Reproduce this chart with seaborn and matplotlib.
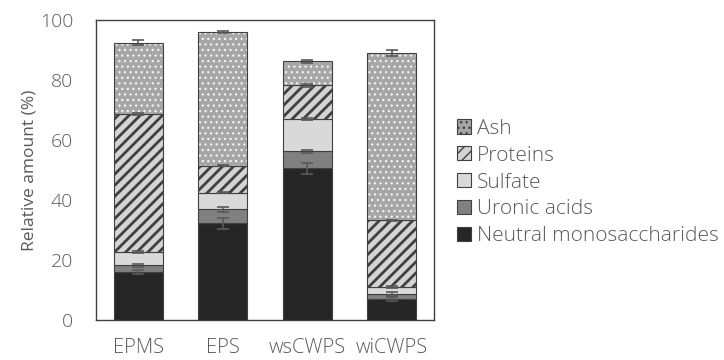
import numpy as np
import pandas as pd
import matplotlib
matplotlib.use("Agg")
import matplotlib.pyplot as plt
import seaborn as sns
from matplotlib.patches import Patch

categories = ["EPMS", "EPS", "wsCWPS", "wiCWPS"]
series_names = ["Neutral monosaccharides", "Uronic acids", "Sulfate", "Proteins", "Ash"]
neutral = [16.0, 32.2, 50.6, 7.0]
uronic = [2.3, 4.7, 5.7, 1.6]
sulfate = [4.5, 5.5, 10.6, 2.3]
proteins = [45.8, 9.0, 11.3, 22.4]
ash = [23.8, 44.5, 8.1, 55.8]
neutral_err = [0.7, 1.7, 1.8, 0.8]
uronic_err = [0.5, 0.8, 0.5, 0.6]
sulfate_err = [0.3, 0.2, 0.3, 0.3]
proteins_err = [0.3, 0.2, 0.5, 0.2]
ash_err = [0.8, 0.3, 0.5, 1.0]
y_ticks = [0, 20, 40, 60, 80, 100]

values = [neutral, uronic, sulfate, proteins, ash]
errors = [neutral_err, uronic_err, sulfate_err, proteins_err, ash_err]

styles = {
    "Neutral monosaccharides": dict(face="#262626", hatch=None, hcol=None, hlw=1.0),
    "Uronic acids": dict(face="#808080", hatch=None, hcol=None, hlw=1.0),
    "Sulfate": dict(face="#d9d9d9", hatch=None, hcol=None, hlw=1.0),
    "Proteins": dict(face="#d4d4d4", hatch="///", hcol="#404040", hlw=2.0),
    "Ash": dict(face="#a6a6a6", hatch="...", hcol="#f4f4f4", hlw=0.9),
}

sns.set_theme(style="white")
plt.rcParams["font.family"] = ["Open Sans", "DejaVu Sans"]
plt.rcParams["font.weight"] = "light"
text_color = "#595959"
edge_color = "#404040"

fig = plt.figure(figsize=(7.24, 3.6), dpi=100)
ax = fig.add_axes([96 / 724, 40 / 360, 338 / 724, 300 / 360])

bar_w = 0.58
bottom = np.zeros(len(categories))
for name, vals in zip(series_names, values):
    st = styles[name]
    df = pd.DataFrame({"cat": categories, "val": vals})
    n_before = len(ax.patches)
    with plt.rc_context({"hatch.linewidth": st["hlw"]}):
        sns.barplot(data=df, x="cat", y="val", order=categories, bottom=bottom,
                    width=bar_w, errorbar=None, ax=ax, color=st["face"],
                    saturation=1, linewidth=0)
    for p in ax.patches[n_before:]:
        p.set_facecolor(st["face"])
        if st["hatch"]:
            p.set_hatch(st["hatch"])
            p.set_edgecolor(st["hcol"])
            p.set_linewidth(0)
            if hasattr(p, "set_hatch_linewidth"):
                p.set_hatch_linewidth(st["hlw"])
    # outline layer
    n_before = len(ax.patches)
    sns.barplot(data=df, x="cat", y="val", order=categories, bottom=bottom,
                width=bar_w, errorbar=None, ax=ax, color=edge_color,
                saturation=1, linewidth=0.8)
    for p in ax.patches[n_before:]:
        p.set_facecolor("none")
        p.set_edgecolor(edge_color)
        p.set_linewidth(0.8)
    bottom = bottom + np.array(vals)

# error bars at top of each segment
cum = np.zeros(len(categories))
xs = np.arange(len(categories))
for vals, errs in zip(values, errors):
    cum = cum + np.array(vals)
    ax.errorbar(xs, cum, yerr=errs, fmt="none", ecolor="#595959",
                elinewidth=1.2, capsize=4.6, capthick=1.2, zorder=5)

ax.set_xlim(-0.5, 3.5)
ax.set_ylim(0, 100)
ax.set_yticks(y_ticks)
ax.set_xlabel("")
ax.set_ylabel("Relative amount (%)", fontsize=12.5, color=text_color, labelpad=1.5)
ax.tick_params(axis="both", length=0, labelcolor=text_color)
ax.tick_params(axis="x", pad=13, labelsize=14.5)
ax.tick_params(axis="y", pad=16.5, labelsize=14)
for sp in ax.spines.values():
    sp.set_visible(True)
    sp.set_color(edge_color)
    sp.set_linewidth(1.0)

handles = []
for name in reversed(series_names):
    st = styles[name]
    with plt.rc_context({"hatch.linewidth": st["hlw"]}):
        h = Patch(facecolor=st["face"], edgecolor=edge_color,
                  hatch=st["hatch"], linewidth=0.8, label=name)
    handles.append(h)
leg = fig.legend(handles=handles, loc="center left",
                 bbox_to_anchor=(457 / 724, (360 - 182.5) / 360),
                 frameon=False, fontsize=15, handlelength=0.67, handleheight=0.67,
                 handletextpad=0.29, labelspacing=0.33, borderpad=0, borderaxespad=0)
for t in leg.get_texts():
    t.set_color(text_color)

fig.savefig("out.png", dpi=100)
